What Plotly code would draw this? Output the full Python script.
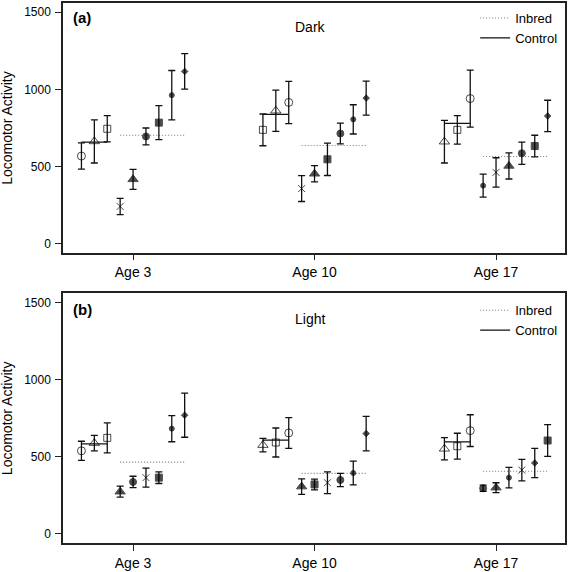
import plotly.graph_objects as go

# ---------------- data ----------------
AGES = ["Age 3", "Age 10", "Age 17"]
PANELS = ["Dark", "Light"]
PANEL_TAGS = ["(a)", "(b)"]
Y_TICKS = [0, 500, 1000, 1500]

# Dark (a): control lines (3 per age) and inbred lines (6 per age)
dark_ctrl_mean = [[567, 662, 744], [737, 861, 915], [660, 737, 940]]
dark_ctrl_err = [[85, 140, 85], [103, 134, 137], [138, 92, 185]]
dark_inb_mean = [[240, 416, 694, 784, 962, 1116],
                 [356, 452, 546, 713, 805, 943],
                 [375, 461, 503, 585, 632, 827]]
dark_inb_err = [[53, 65, 55, 110, 160, 115],
                [84, 53, 105, 67, 95, 110],
                [75, 95, 85, 72, 70, 102]]

# Light (b)
light_ctrl_mean = [[538, 588, 622], [575, 592, 654], [551, 568, 669]]
light_ctrl_err = [[62, 50, 97], [44, 94, 100], [72, 84, 103]]
light_inb_mean = [[273, 336, 364, 364, 682, 769],
                  [306, 320, 331, 349, 394, 650],
                  [295, 299, 364, 413, 459, 605]]
light_inb_err = [[36, 37, 62, 38, 85, 143],
                 [50, 35, 71, 43, 77, 112],
                 [20, 32, 66, 70, 95, 103]]

# ---------------- styles (marker keys per point) ----------------
dark_ctrl_sym = [["O", "T", "S"], ["S", "T", "O"], ["T", "S", "O"]]
dark_inb_sym = [["X", "t", "o", "s", ".", "d"],
                ["X", "t", "s", "o", ".", "d"],
                [".", "X", "t", "o", "s", "d"]]
light_ctrl_sym = [["O", "T", "S"], ["T", "S", "O"], ["T", "S", "O"]]
light_inb_sym = [["t", "o", "X", "s", ".", "d"],
                 ["t", "s", "X", "o", ".", "d"],
                 ["o", "t", ".", "X", "d", "s"]]

STYLE = {
    "O": ("circle-open", 8),
    "T": ("triangle-up-open", 9),
    "S": ("square-open", 7),
    "X": ("x-thin-open", 7),
    "t": ("triangle-up", 9),
    "o": ("circle", 7),
    "s": ("square", 7),
    "d": ("diamond", 5),
    ".": ("circle", 5),
}

STEP = 0.0711
FONT = "Liberation Sans, Arial, Helvetica, sans-serif"

panel_data = [
    (dark_ctrl_mean, dark_ctrl_err, dark_ctrl_sym, dark_inb_mean, dark_inb_err, dark_inb_sym),
    (light_ctrl_mean, light_ctrl_err, light_ctrl_sym, light_inb_mean, light_inb_err, light_inb_sym),
]

fig = go.Figure()

for p, (cm, ce, cs, im, ie, isym) in enumerate(panel_data):
    xa = "x" if p == 0 else "x2"
    ya = "y" if p == 0 else "y2"
    leg = "legend" if p == 0 else "legend2"
    for g in range(len(AGES)):
        center = g + 1
        xs = [center + (i - 4) * STEP for i in range(9)]
        vals = list(cm[g]) + list(im[g])
        errs = list(ce[g]) + list(ie[g])
        keys = list(cs[g]) + list(isym[g])
        inb_avg = sum(im[g]) / len(im[g])
        ctrl_avg = sum(cm[g]) / len(cm[g])
        # inbred mean line (dotted)
        fig.add_trace(go.Scatter(
            x=[xs[3], xs[8]], y=[inb_avg, inb_avg], mode="lines",
            line=dict(color="#7a7a7a", width=1.1, dash="1px,2px"),
            name="Inbred", legendgroup=f"inb{p}", showlegend=(g == 0),
            legend=leg, xaxis=xa, yaxis=ya, hoverinfo="skip"))
        # control mean line (solid)
        fig.add_trace(go.Scatter(
            x=[xs[0], xs[2]], y=[ctrl_avg, ctrl_avg], mode="lines",
            line=dict(color="#111111", width=1.3),
            name="Control", legendgroup=f"ctl{p}", showlegend=(g == 0),
            legend=leg, xaxis=xa, yaxis=ya, hoverinfo="skip"))
        # points with error bars
        fig.add_trace(go.Scatter(
            x=xs, y=vals, mode="markers",
            marker=dict(symbol=[STYLE[k][0] for k in keys],
                        size=[STYLE[k][1] for k in keys],
                        color="black",
                        line=dict(color="black", width=1)),
            error_y=dict(type="data", array=errs, visible=True,
                         color="#111111", thickness=1.3, width=3.5),
            showlegend=False, xaxis=xa, yaxis=ya))

axis_common = dict(showline=True, mirror=True, linecolor="#222222", linewidth=1.5,
                   showgrid=False, zeroline=False, ticks="outside", ticklen=6,
                   tickcolor="#222222", tickwidth=1)

xcommon = dict(axis_common, range=[0.614, 3.38], tickvals=[1, 2, 3], ticktext=AGES,
               tickfont=dict(family=FONT, size=14, color="black"))
ycommon = dict(axis_common, range=[-60, 1560], tickvals=Y_TICKS,
               ticktext=[str(v) for v in Y_TICKS], ticklabelstandoff=2,
               tickfont=dict(family=FONT, size=12, color="black"))

fig.update_layout(
    width=568, height=572,
    margin=dict(l=63, r=3, t=1, b=26),
    paper_bgcolor="white", plot_bgcolor="white",
    font=dict(family=FONT, color="black"),
    xaxis=dict(xcommon, domain=[0, 1], anchor="y"),
    yaxis=dict(ycommon, domain=[0.5376, 1.0], anchor="x"),
    xaxis2=dict(xcommon, domain=[0, 1], anchor="y2"),
    yaxis2=dict(ycommon, domain=[0.0, 0.4624], anchor="x2"),
    legend=dict(x=0.821, y=1.0, xanchor="left", yanchor="top",
                bgcolor="rgba(0,0,0,0)", font=dict(family=FONT, size=13),
                tracegroupgap=0),
    legend2=dict(x=0.821, y=0.4587, xanchor="left", yanchor="top",
                 bgcolor="rgba(0,0,0,0)", font=dict(family=FONT, size=13),
                 tracegroupgap=0),
)

ann = []
for p in range(2):
    yd = "y domain" if p == 0 else "y2 domain"
    xd = "x domain" if p == 0 else "x2 domain"
    ann.append(dict(text=f"<b>{PANEL_TAGS[p]}</b>", xref=xd, yref=yd,
                    x=0.016, y=0.94 if p == 0 else 0.935, xanchor="left", yanchor="middle",
                    showarrow=False, font=dict(family=FONT, size=15)))
    ann.append(dict(text=PANELS[p], xref=xd, yref=yd,
                    x=0.493, y=0.905 if p == 0 else 0.897, xanchor="center", yanchor="middle",
                    showarrow=False, font=dict(family=FONT, size=14)))
    ann.append(dict(text="Locomotor Activity", xref="paper", yref=yd,
                    x=0, xshift=-56, y=0.5, textangle=-90,
                    xanchor="center", yanchor="middle",
                    showarrow=False, font=dict(family=FONT, size=14)))
fig.update_layout(annotations=ann)

fig.write_html("out.html", config={"displayModeBar": False},
               post_script="document.body.style.margin='0px';")
